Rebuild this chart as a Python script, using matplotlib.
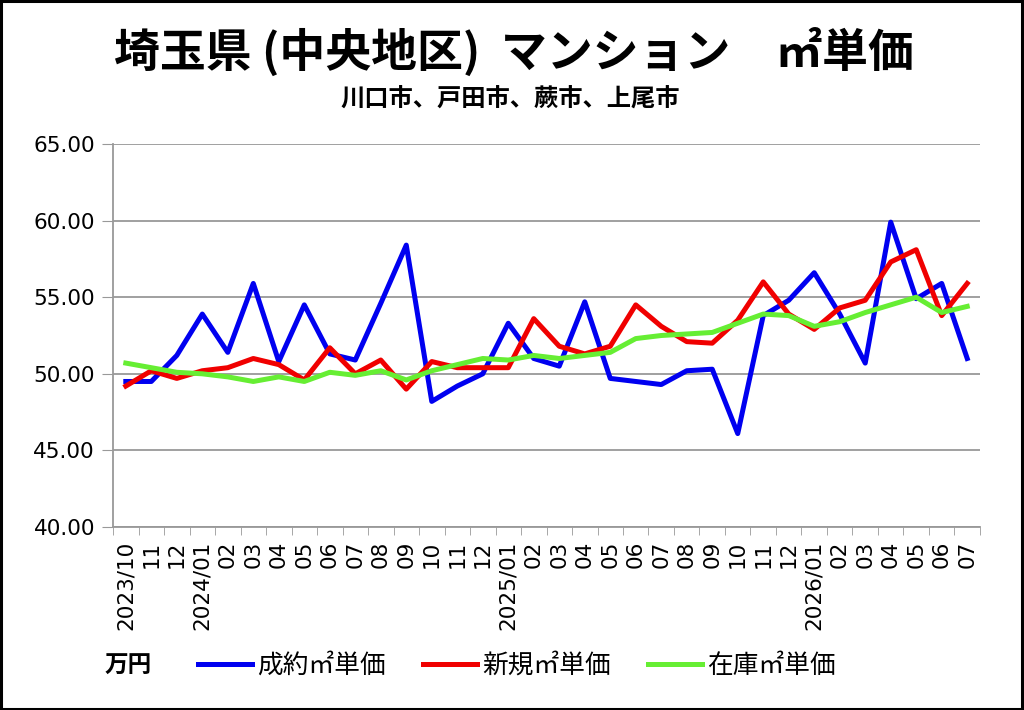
import numpy as np
import matplotlib
matplotlib.use("Agg")
import matplotlib.pyplot as plt
from matplotlib.patches import Rectangle
from matplotlib.ticker import FormatStrFormatter

# month labels along the x axis
months = ["2023/10", "11", "12",
          "2024/01", "02", "03", "04", "05", "06", "07", "08", "09", "10", "11", "12",
          "2025/01", "02", "03", "04", "05", "06", "07", "08", "09", "10", "11", "12",
          "2026/01", "02", "03", "04", "05", "06", "07"]

# 成約 / 新規 / 在庫 ㎡単価 (万円)
seiyaku = [49.5, 49.5, 51.2, 53.9, 51.4, 55.9, 50.8, 54.5, 51.3, 50.9, 54.6, 58.4,
           48.2, 49.2, 50.0, 53.3, 51.0, 50.5, 54.7, 49.7, 49.5, 49.3, 50.2, 50.3,
           46.1, 53.8, 54.8, 56.6, 53.9, 50.7, 59.9, 54.9, 55.9, 51.0]
shinki = [49.2, 50.2, 49.7, 50.2, 50.4, 51.0, 50.6, 49.6, 51.7, 50.0, 50.9, 49.0,
          50.8, 50.4, 50.4, 50.4, 53.6, 51.8, 51.3, 51.8, 54.5, 53.1, 52.1, 52.0,
          53.5, 56.0, 53.9, 52.9, 54.3, 54.8, 57.3, 58.1, 53.8, 55.9]
zaiko = [50.7, 50.4, 50.1, 50.0, 49.8, 49.5, 49.8, 49.5, 50.1, 49.9, 50.2, 49.6,
         50.2, 50.6, 51.0, 50.9, 51.2, 51.0, 51.2, 51.4, 52.3, 52.5, 52.6, 52.7,
         53.3, 53.9, 53.8, 53.1, 53.4, 54.0, 54.5, 55.0, 54.0, 54.4]

jp = ["Noto Sans CJK JP", "DejaVu Sans"]

fig = plt.figure(figsize=(10.24, 7.10), dpi=100)
ax = fig.add_axes([0.1104, 0.2577, 0.8466, 0.5395])

x = np.arange(len(months))
ax.plot(x, seiyaku, color="#0000F0", lw=3.6, label="成約㎡単価", zorder=3)
ax.plot(x, shinki, color="#F00000", lw=3.6, label="新規㎡単価", zorder=4)
ax.plot(x, zaiko, color="#66EE33", lw=3.6, label="在庫㎡単価", zorder=5)

ax.set_xlim(-0.5, len(months) - 0.5)
ax.set_ylim(40, 65)
ax.set_yticks(np.arange(40, 66, 5))
ax.yaxis.set_major_formatter(FormatStrFormatter("%.2f"))
ax.tick_params(axis="y", labelsize=15.5, length=8, color="#999999", pad=5)

ax.set_xticks(x)
ax.set_xticklabels(months, rotation=90, fontsize=15.5, family="DejaVu Sans")
ax.set_xticks(np.arange(-0.5, len(months)), minor=True)
ax.tick_params(axis="x", which="major", length=0, pad=10)
ax.tick_params(axis="x", which="minor", length=6, color="#999999")

ax.grid(axis="y", color="#999999", lw=1.3)
ax.set_axisbelow(True)
for s in ["top", "right"]:
    ax.spines[s].set_visible(False)
for s in ["left", "bottom"]:
    ax.spines[s].set_color("#999999")
    ax.spines[s].set_linewidth(1.3)

fig.text(0.502, 0.927, "埼玉県 (中央地区)  マンション　㎡単価", ha="center", va="center",
         fontsize=33, fontweight="bold", family=jp)
fig.text(0.498, 0.860, "川口市、戸田市、蕨市、上尾市", ha="center", va="center",
         fontsize=17.5, fontweight="bold", family=jp)

fig.text(0.1025, 0.0620, "万円", ha="left", va="center", fontsize=17,
         fontweight="bold", family=jp)
fig.legend(loc="center left", bbox_to_anchor=(0.193, 0.0620), ncol=3, frameon=False,
           prop={"family": jp, "size": 18.5}, handlelength=2.1, handletextpad=0.2,
           columnspacing=1.45, borderpad=0, borderaxespad=0)

fig.add_artist(Rectangle((0.001, 0.002), 0.997, 0.996, transform=fig.transFigure,
                         fill=False, edgecolor="black", lw=2.2))

fig.savefig("out.png", dpi=100)
